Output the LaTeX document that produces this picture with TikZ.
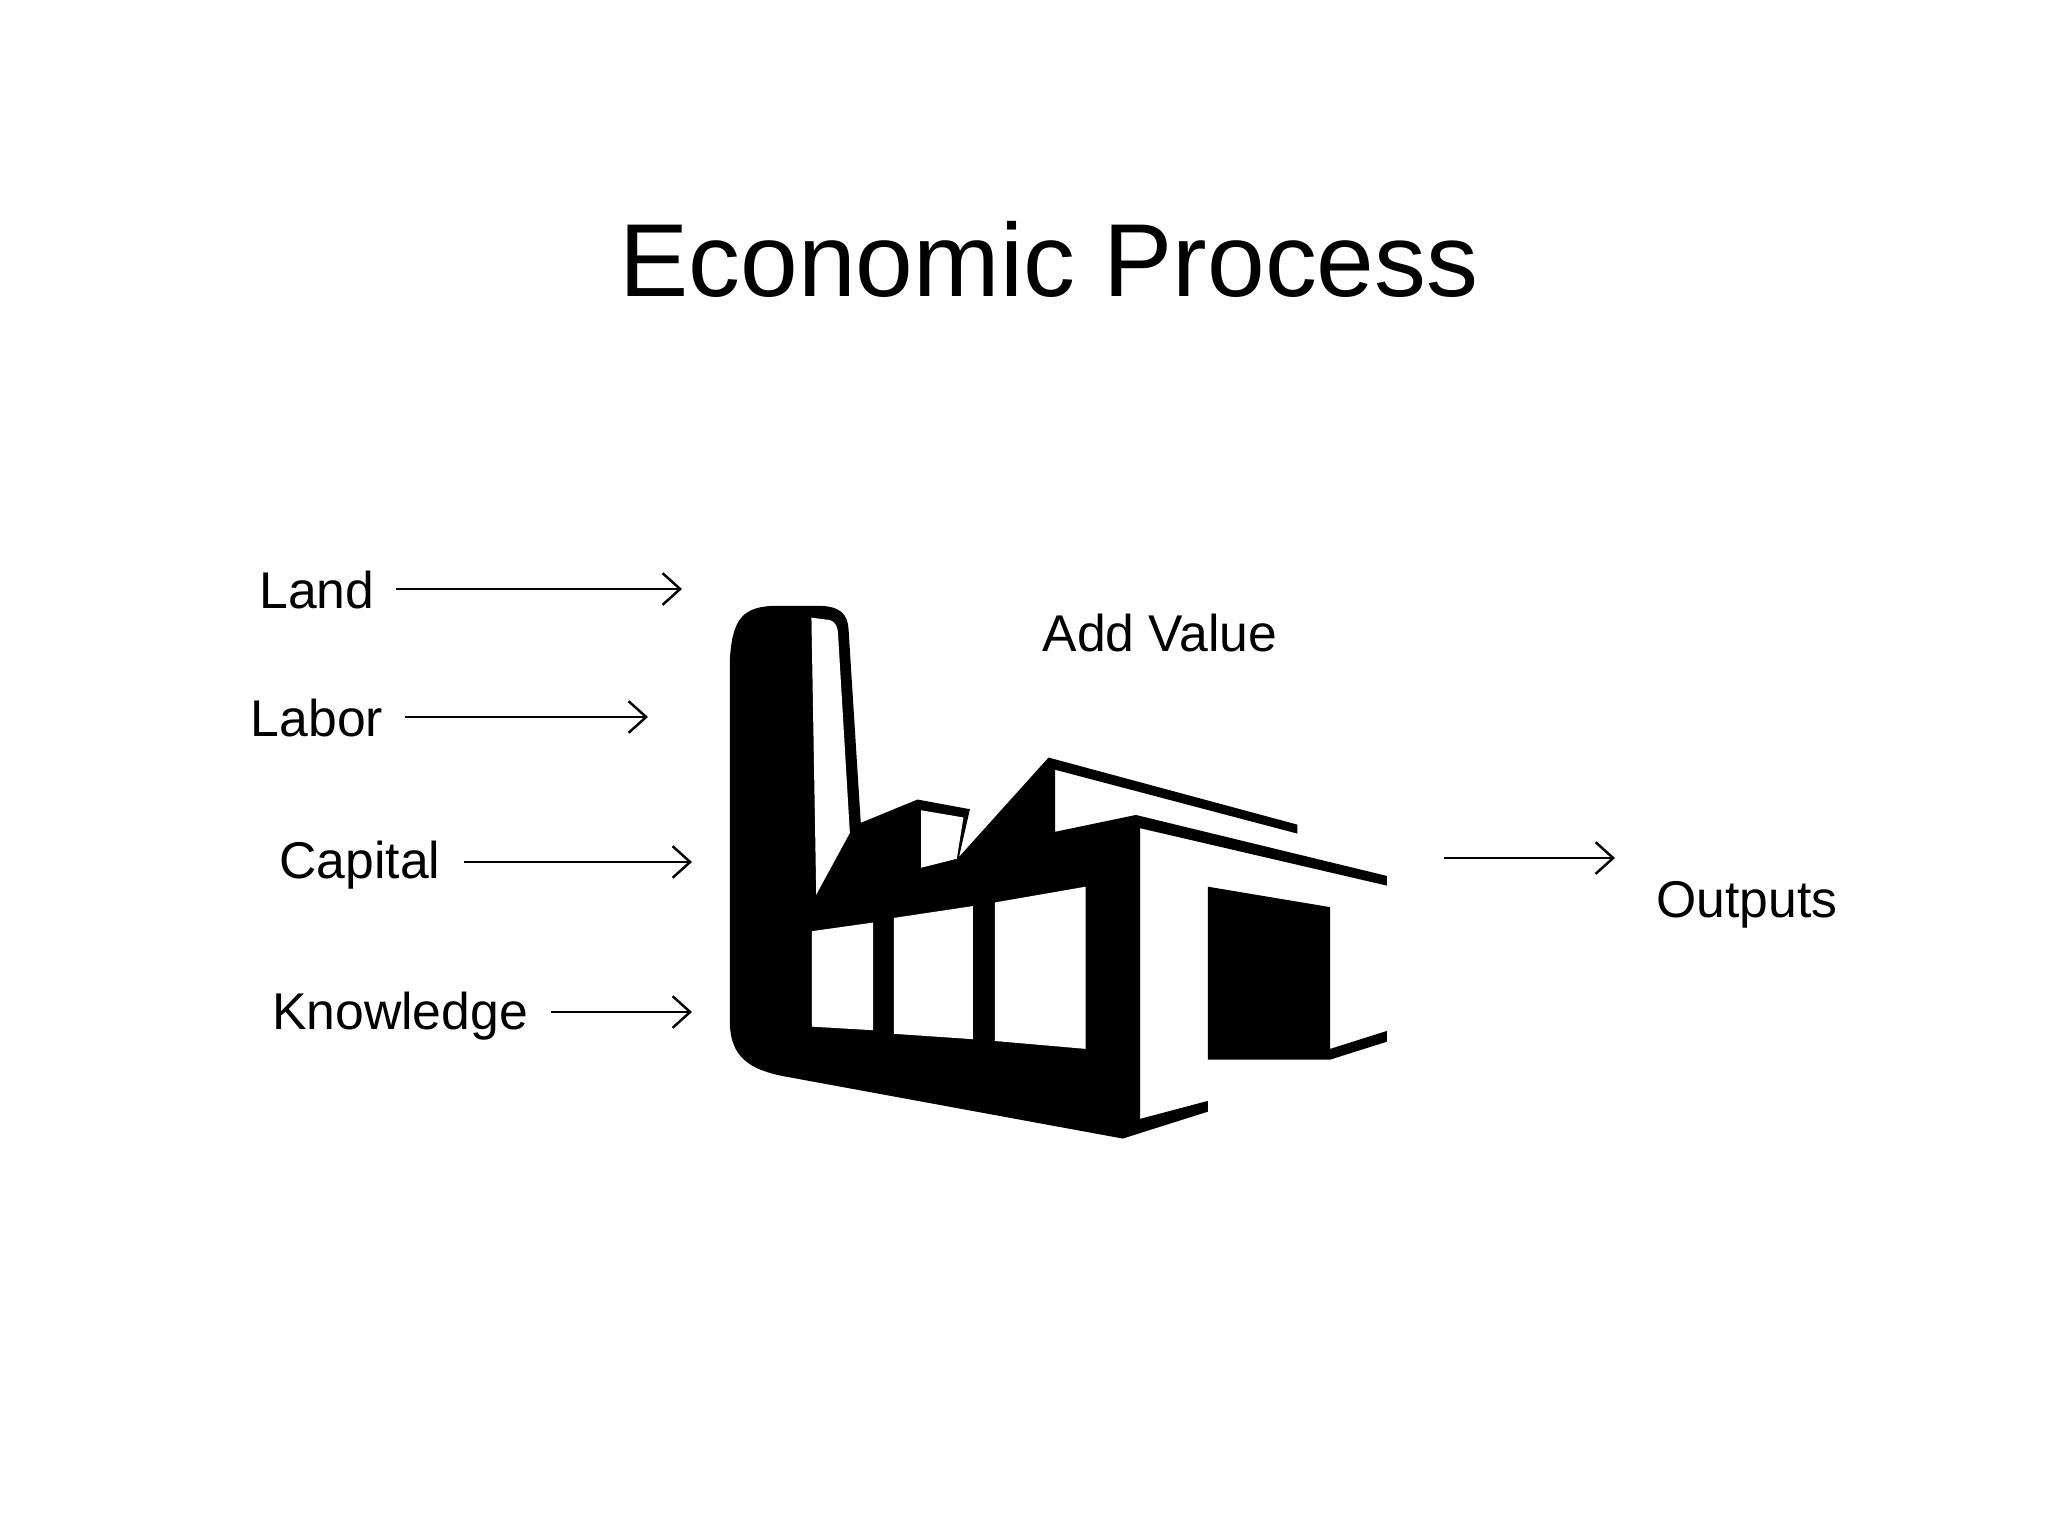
\documentclass[tikz,border=0pt]{standalone}
\usepackage{fontspec}
\setmainfont{Liberation Sans}
\usetikzlibrary{arrows.meta}
\begin{document}
\begin{tikzpicture}[x=0.01cm,y=-0.01cm,
  lbl/.style={font=\fontsize{14.7}{18}\selectfont, inner sep=0pt},
  arr/.style={-{Straight Barb[length=5pt,width=9pt,line width=0.7pt]}, line width=0.7pt}]
\useasboundingbox (0,0) rectangle (2048,1536);
\node[font=\fontsize{29.5}{36}\selectfont, inner sep=0pt] (title) at (1049,259) {Economic Process};
\node[lbl] (land) at (317,590) {Land};
\node[lbl] (labor) at (317,718) {Labor};
\node[lbl] (capital) at (360,865) {Capital};
\node[lbl] (know) at (400,1016) {Knowledge};
\node[lbl] (addv) at (1160,633) {Add Value};
\node[lbl] (out) at (1747,905) {Outputs};
\coordinate (a1) at (396,589); \coordinate (b1) at (682,589);
\coordinate (a2) at (405,717); \coordinate (b2) at (648,717);
\coordinate (a3) at (464,862); \coordinate (b3) at (692,862);
\coordinate (a4) at (551,1012); \coordinate (b4) at (692,1012);
\coordinate (a5) at (1444,858); \coordinate (b5) at (1615,858);
\draw[arr] (a1) -- (b1);
\draw[arr] (a2) -- (b2);
\draw[arr] (a3) -- (b3);
\draw[arr] (a4) -- (b4);
\draw[arr] (a5) -- (b5);
\begin{scope}[x=0.00436cm,y=-0.00359cm,shift={(1651.4,1643.5)}]
\fill[black] (20,200) .. controls (25,80) and (50,45) .. (130,45) -- (220,45)
  .. controls (275,45) and (290,70) .. (292,110) -- (320,650) -- (450,585) -- (570,612)
  -- (545,745) -- (750,468) -- (1320,655) -- (1320,680) -- (765,502) -- (765,675)
  -- (950,628) -- (1525,798) -- (1525,825) -- (960,665) -- (960,1475) -- (1115,1425)
  -- (1115,1455) -- (920,1530) -- (160,1360) .. controls (60,1340) and (20,1300) .. (20,1200) -- cycle;
\fill[white] (207,78) -- (250,85) .. controls (262,90) and (268,105) .. (268,125) -- (295,678) -- (218,850) -- cycle;
\fill[white] (458,615) -- (555,635) -- (540,750) -- (458,775) -- cycle;
\fill[white] (208,952) -- (348,928) -- (348,1228) -- (208,1218) -- cycle;
\fill[white] (396,915) -- (577,882) -- (577,1253) -- (396,1238) -- cycle;
\fill[white] (627,872) -- (835,828) -- (835,1280) -- (627,1258) -- cycle;
\fill[black] (1115,828) -- (1395,885) -- (1395,1280) -- (1525,1230) -- (1525,1260)
  -- (1395,1310) -- (1115,1310) -- cycle;
\end{scope}
\end{tikzpicture}
\end{document}
